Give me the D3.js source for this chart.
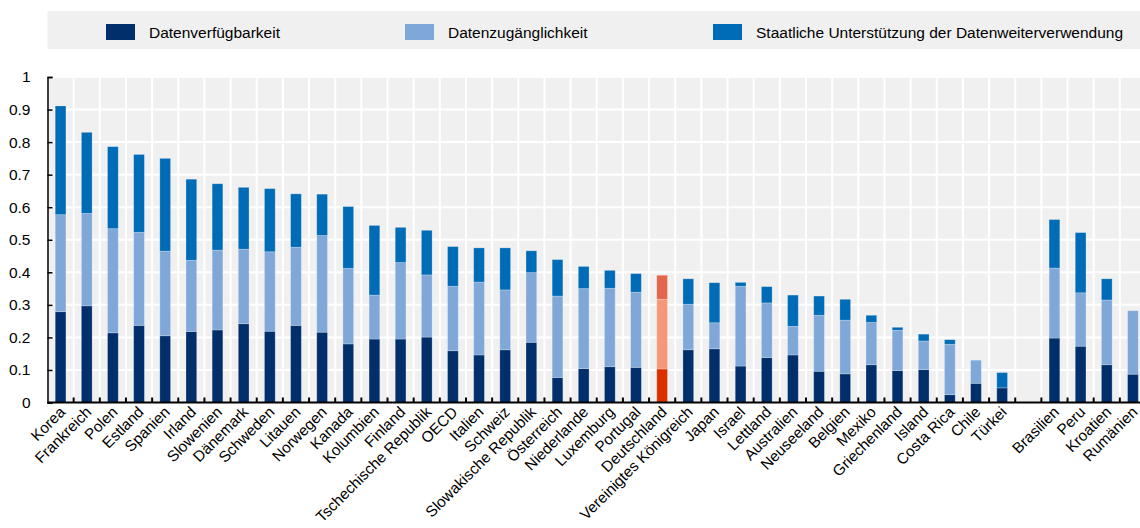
<!DOCTYPE html>
<html>
<head>
<meta charset="utf-8">
<script src="https://cdn.jsdelivr.net/npm/d3@7"></script>
<style>
  body { margin: 0; background: #fff; }
  svg { display: block; font-family: "Liberation Sans", Arial, sans-serif; }
</style>
</head>
<body>
<div id="chart"></div>
<script>
// Länder (leerer Eintrag = Lücke vor den Nicht-OECD-Ländern)
const countries = ["Korea", "Frankreich", "Polen", "Estland", "Spanien", "Irland", "Slowenien",
  "Dänemark", "Schweden", "Litauen", "Norwegen", "Kanada", "Kolumbien", "Finland",
  "Tschechische Republik", "OECD", "Italien", "Schweiz", "Slowakische Republik", "Österreich",
  "Niederlande", "Luxemburg", "Portugal", "Deutschland", "Vereinigtes Königreich", "Japan",
  "Israel", "Lettland", "Australien", "Neuseeland", "Belgien", "Mexiko", "Griechenland",
  "Island", "Costa Rica", "Chile", "Türkei", "", "Brasilien", "Peru", "Kroatien", "Rumänien"];

const verfuegbarkeit = [0.279, 0.297, 0.214, 0.237, 0.205, 0.218, 0.223, 0.242, 0.219, 0.237,
  0.216, 0.180, 0.195, 0.195, 0.201, 0.159, 0.146, 0.162, 0.185, 0.077, 0.104, 0.110, 0.108,
  0.103, 0.162, 0.165, 0.112, 0.138, 0.146, 0.096, 0.088, 0.116, 0.098, 0.101, 0.024, 0.059,
  0.045, null, 0.198, 0.173, 0.116, 0.087];

const zugaenglichkeit = [0.298, 0.284, 0.320, 0.286, 0.260, 0.219, 0.245, 0.229, 0.244, 0.240,
  0.297, 0.232, 0.135, 0.235, 0.191, 0.198, 0.224, 0.184, 0.214, 0.250, 0.246, 0.241, 0.231,
  0.214, 0.140, 0.080, 0.245, 0.168, 0.088, 0.172, 0.165, 0.130, 0.124, 0.088, 0.155, 0.071,
  0.000, null, 0.215, 0.164, 0.199, 0.195];

const unterstuetzung = [0.334, 0.249, 0.252, 0.239, 0.285, 0.249, 0.204, 0.190, 0.194, 0.164,
  0.127, 0.190, 0.214, 0.108, 0.137, 0.122, 0.105, 0.129, 0.067, 0.112, 0.068, 0.055, 0.057,
  0.074, 0.078, 0.123, 0.012, 0.050, 0.096, 0.059, 0.064, 0.022, 0.009, 0.021, 0.014, 0.000,
  0.047, null, 0.149, 0.185, 0.065, 0.000];

const seriesNames = ["Datenverfügbarkeit", "Datenzugänglichkeit", "Staatliche Unterstützung der Datenweiterverwendung"];
const yTicks = [0, 0.1, 0.2, 0.3, 0.4, 0.5, 0.6, 0.7, 0.8, 0.9, 1];

const colors = ["#002f6c", "#7fa8d9", "#006bb6"];
const highlight = ["#dc3000", "#f5987a", "#e3654b"];

const width = 1140, height = 528;
const plotL = 47.5, plotR = 1146, plotT = 77, plotB = 402.5;

const svg = d3.select("#chart").append("svg")
  .attr("width", width)
  .attr("height", height);

const x = d3.scaleBand()
  .domain(countries.map((c, i) => i))
  .range([plotL, plotR])
  .paddingInner(0.59)
  .paddingOuter(0.295);

const y = d3.scaleLinear().domain([0, 1]).range([plotB, plotT]);

// Hintergrund
svg.append("rect")
  .attr("x", plotL).attr("y", plotT)
  .attr("width", width - plotL).attr("height", plotB - plotT)
  .attr("fill", "#f0f0f0");

// Gitter
const step = x.step();
const bounds = d3.range(1, countries.length).map(i => plotL + i * step);
svg.append("g").selectAll("line").data(bounds).join("line")
  .attr("x1", d => d).attr("x2", d => d)
  .attr("y1", plotT).attr("y2", plotB)
  .attr("stroke", "#fff").attr("stroke-width", 2);
svg.append("g").selectAll("line").data(yTicks.slice(1)).join("line")
  .attr("x1", plotL).attr("x2", width)
  .attr("y1", d => y(d)).attr("y2", d => y(d))
  .attr("stroke", "#fff").attr("stroke-width", 2);

// gestapelte Balken
const rows = countries.map((c, i) => ({
  country: c, i: i,
  values: [verfuegbarkeit[i], zugaenglichkeit[i], unterstuetzung[i]]
})).filter(d => d.country !== "");

const stack = d3.stack()
  .keys([0, 1, 2])
  .value((d, k) => d.values[k]);
const stacked = stack(rows);

stacked.forEach((layer, k) => {
  svg.append("g").selectAll("rect").data(layer).join("rect")
    .attr("x", d => x(d.data.i))
    .attr("width", x.bandwidth())
    .attr("y", d => y(d[1]))
    .attr("height", d => Math.max(0, y(d[0]) - y(d[1])))
    .attr("fill", d => d.data.country === "Deutschland" ? highlight[k] : colors[k])
    .attr("stroke", "rgba(255,255,255,0.3)")
    .attr("stroke-width", 0.8);
});

// y-Achse
const yAxis = svg.append("g")
  .attr("transform", `translate(${plotL},0)`)
  .call(d3.axisLeft(y).tickValues(yTicks).tickFormat(d => d3.format("")(d)).tickSize(-5).tickPadding(17));
yAxis.select(".domain").attr("stroke", "#000").attr("stroke-width", 1.5);
yAxis.selectAll(".tick line").attr("stroke", "#000").attr("stroke-width", 1.5);
yAxis.selectAll("text").attr("font-size", "15.5px").attr("fill", "#000")
  .attr("text-anchor", "end");

// x-Achse
svg.append("line")
  .attr("x1", plotL).attr("x2", width)
  .attr("y1", plotB).attr("y2", plotB)
  .attr("stroke", "#000").attr("stroke-width", 2);
svg.append("g").selectAll("line").data(bounds).join("line")
  .attr("x1", d => d).attr("x2", d => d)
  .attr("y1", plotB).attr("y2", plotB - 5)
  .attr("stroke", "#000").attr("stroke-width", 2);

svg.append("g").selectAll("text").data(rows).join("text")
  .attr("transform", d => `translate(${x(d.i) + x.bandwidth() / 2 - 2},${plotB + 3}) rotate(-45)`)
  .attr("text-anchor", "end")
  .attr("dy", "0.7em")
  .attr("font-size", "15.3px")
  .attr("fill", "#000")
  .text(d => d.country);

// Legende
svg.append("rect")
  .attr("x", plotL).attr("y", 11)
  .attr("width", width - plotL).attr("height", 38)
  .attr("fill", "#f0f0f0");
const legendX = [106, 405, 713];
const legend = svg.append("g").selectAll("g").data(seriesNames).join("g")
  .attr("transform", (d, i) => `translate(${legendX[i]},24)`);
legend.append("rect")
  .attr("width", 29).attr("height", 16)
  .attr("fill", (d, i) => colors[i]);
legend.append("text")
  .attr("x", 43).attr("y", 13.5)
  .attr("font-size", "15.5px")
  .attr("fill", "#000")
  .text(d => d);
</script>
</body>
</html>
